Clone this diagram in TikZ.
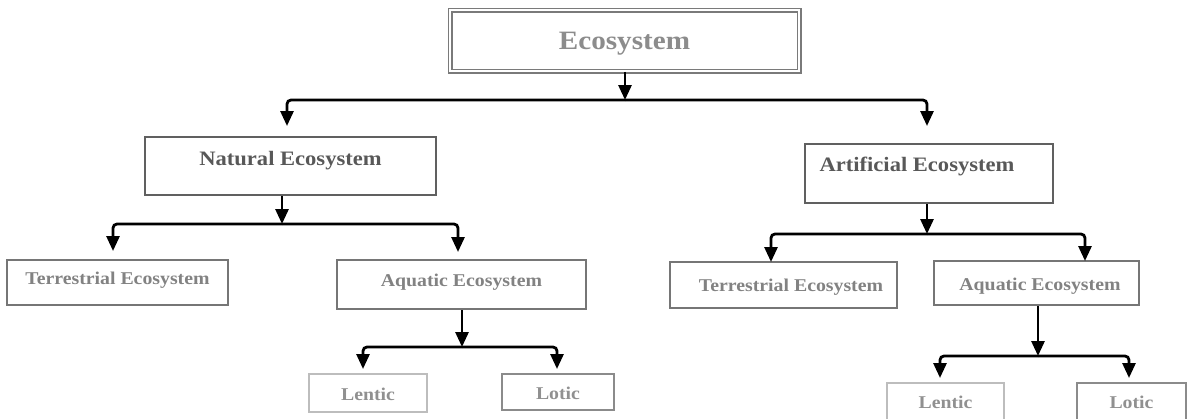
\documentclass[tikz,border=0pt]{standalone}
\usepackage{fontspec}
\setmainfont[FakeStretch=1.1]{Liberation Serif}
\usetikzlibrary{arrows.meta}
\definecolor{ecoline}{HTML}{7A7A7A}
\definecolor{ecotext}{HTML}{8C8C8C}
\definecolor{midline}{HTML}{606060}
\definecolor{midtext}{HTML}{585858}
\definecolor{lowline}{HTML}{767676}
\definecolor{lowtext}{HTML}{828282}
\definecolor{paleline}{HTML}{BDBDBD}
\definecolor{paletext}{HTML}{909090}
\tikzset{
  box/.style={draw, rectangle, inner sep=0pt, anchor=base, font=\bfseries},
  topbox/.style={box, draw=ecoline, line width=1.6pt, double=white, double distance=1.8pt,
                 text=ecotext, font=\bfseries\fontsize{26.5}{30}\selectfont},
  midbox/.style={box, draw=midline, line width=2pt, text=midtext, font=\bfseries\fontsize{20.5}{24}\selectfont},
  lowbox/.style={box, draw=lowline, line width=2pt, text=lowtext, font=\bfseries\fontsize{18}{22}\selectfont},
  palebox/.style={box, draw=paleline, line width=2pt, text=paletext, font=\bfseries\fontsize{18}{22}\selectfont},
  darkpale/.style={box, draw=lowline!85, line width=2.6pt, text=paletext, font=\bfseries\fontsize{18}{22}\selectfont},
  arr/.style={draw=black, line width=2.8pt, rounded corners=4pt, -{Triangle[width=13pt,length=15pt]}}
}
\begin{document}
\begin{tikzpicture}[x=1pt,y=-1pt]
\useasboundingbox (0,0) rectangle (1187,418);
\clip (0,0) rectangle (1187,418);
% boxes
\node[topbox, minimum width=349pt, text height=39.5pt, text depth=21.5pt] (eco) at (624.5,49.5) {Ecosystem};
\node[midbox, minimum width=291pt, text height=28pt, text depth=30pt] (nat) at (290.5,165) {Natural Ecosystem};
\node[midbox, minimum width=248pt, text height=27pt, text depth=32pt] (art) at (929,171) {\hspace*{-24pt}Artificial Ecosystem};
\node[lowbox, minimum width=221pt, text height=24.5pt, text depth=20.5pt] (terl) at (117.5,284.5) {Terrestrial Ecosystem};
\node[lowbox, minimum width=249pt, text height=26.5pt, text depth=22.5pt] (aqul) at (461.5,286.5) {Aquatic Ecosystem};
\node[palebox, minimum width=118pt, text height=26.5pt, text depth=11.5pt] (lenl) at (368,400.5) {Lentic};
\node[darkpale, minimum width=112pt, text height=25.5pt, text depth=10.5pt] (lotl) at (558,399.5) {Lotic};
\node[lowbox, minimum width=227pt, text height=29.5pt, text depth=16.5pt] (terr) at (783.5,291.5) {\hspace*{15pt}Terrestrial Ecosystem};
\node[lowbox, minimum width=205pt, text height=29.5pt, text depth=14.5pt] (aqur) at (1036.5,290.5) {\hspace*{7pt}Aquatic Ecosystem};
\node[palebox, minimum width=117pt, text height=25.5pt, text depth=12.5pt] (lenr) at (945.5,408.5) {Lentic};
\node[darkpale, minimum width=109pt, text height=25.5pt, text depth=12.5pt] (lotr) at (1131.5,408.5) {Lotic};
% junctions and tips
\coordinate (j1) at (625,100);
\coordinate (tnat) at (287,126);
\coordinate (tart) at (927,126);
\coordinate (j2) at (282,224);
\coordinate (tterl) at (113,251);
\coordinate (taqul) at (458,252);
\coordinate (j3) at (462,347);
\coordinate (tlenl) at (363,369);
\coordinate (tlotl) at (557,369);
\coordinate (j4) at (927,234);
\coordinate (tterr) at (771,262);
\coordinate (taqur) at (1085,261);
\coordinate (j5) at (1038,356);
\coordinate (tlenr) at (940,378);
\coordinate (tlotr) at (1129,378);
% connectors
\draw[arr] (eco.south -| j1) -- (j1);
\draw[arr] (j1) -| (tnat);
\draw[arr] (j1) -| (tart);
\draw[arr] (nat.south -| j2) -- (j2);
\draw[arr] (j2) -| (tterl);
\draw[arr] (j2) -| (taqul);
\draw[arr] (aqul.south -| j3) -- (j3);
\draw[arr] (j3) -| (tlenl);
\draw[arr] (j3) -| (tlotl);
\draw[arr] (art.south -| j4) -- (j4);
\draw[arr] (j4) -| (tterr);
\draw[arr] (j4) -| (taqur);
\draw[arr] (aqur.south -| j5) -- (j5);
\draw[arr] (j5) -| (tlenr);
\draw[arr] (j5) -| (tlotr);
\end{tikzpicture}
\end{document}
